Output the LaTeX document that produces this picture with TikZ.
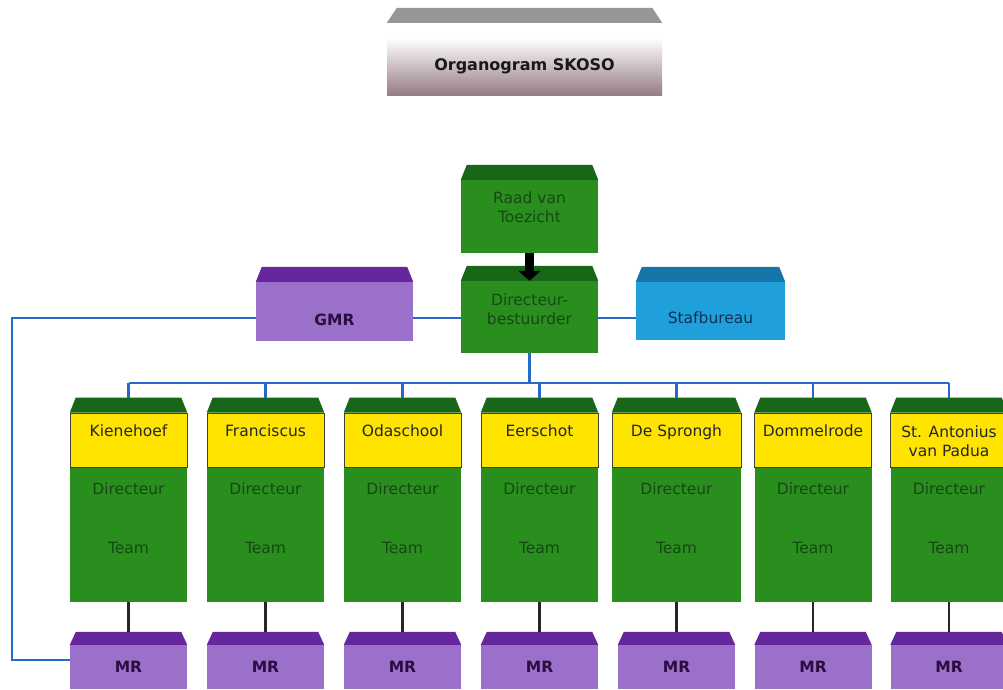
\documentclass[tikz,border=0pt]{standalone}
\usepackage{fontspec}
\setmainfont{DejaVu Sans}
\usetikzlibrary{arrows.meta,calc}

\definecolor{groen}{RGB}{42,142,30}
\definecolor{donkergroen}{RGB}{24,102,24}
\definecolor{tekstgroen}{RGB}{22,72,20}
\definecolor{geel}{RGB}{255,228,0}
\definecolor{paars}{RGB}{155,112,202}
\definecolor{donkerpaars}{RGB}{102,38,156}
\definecolor{tekstpaars}{RGB}{42,14,66}
\definecolor{blauw}{RGB}{32,160,218}
\definecolor{donkerblauw}{RGB}{22,118,170}
\definecolor{tekstblauw}{RGB}{14,48,88}
\definecolor{lijnblauw}{RGB}{36,106,200}
\definecolor{titelgrijs}{RGB}{150,150,152}
\definecolor{titelmidden}{RGB}{196,198,214}
\definecolor{titelonder}{RGB}{150,124,134}

% schuin dak boven een blok
\newcommand\dak[3][15]{\fill[#3] (#2.north west) -- ($(#2.north west)+(6,-#1)$) -- ($(#2.north east)+(-6,-#1)$) -- (#2.north east) -- cycle;}

\begin{document}
\begin{tikzpicture}[x=1pt,y=1pt,yscale=-1,
  kist/.style={rectangle, inner sep=0pt, draw=none},
  groenkist/.style={kist, fill=groen},
  geelkist/.style={kist, fill=geel, draw=black!75, line width=0.6pt, minimum height=54},
  mrkist/.style={kist, fill=paars, minimum width=117, minimum height=44, text=tekstpaars, font=\fontsize{15.5}{19}\selectfont\bfseries},
  tekst/.style={inner sep=0pt, align=center, font=\fontsize{15.5}{19}\selectfont},
  groentekst/.style={tekst, text=tekstgroen},
  naamtekst/.style={tekst, text=black!85},
  blauwlijn/.style={draw=lijnblauw, line width=2.2pt},
  zwartlijn/.style={draw=black!85, line width=2.2pt},
  pijl/.style={draw=black, line width=9pt, -{Triangle[length=10pt,width=22pt]}}]
\useasboundingbox (0,0) rectangle (1003,689);
\clip (0,0) rectangle (1003,689);

% titel
\node[kist, minimum width=275, minimum height=57, top color=white, middle color=titelmidden, bottom color=titelonder, font=\fontsize{16}{19}\selectfont\bfseries, text=black!90] (titel) at (524.5,66.5) {Organogram SKOSO};
\fill[titelgrijs] ($(titel.north west)+(0,-15)$) -- ($(titel.north west)+(10,-30)$) -- ($(titel.north east)+(-10,-30)$) -- ($(titel.north east)+(0,-15)$) -- cycle;

% bestuur
\node[groenkist, minimum width=137, minimum height=73] (raad) at (529.5,216.5) {};
\dak{raad}{donkergroen}
\node[groentekst] (raadtekst) at (529.5,207.5) {Raad van\\Toezicht};

\node[groenkist, minimum width=137, minimum height=72] (dir) at (529.5,317) {};
\dak{dir}{donkergroen}
\node[groentekst] (dirtekst) at (529.5,309.5) {Directeur-\\bestuurder};

\node[kist, fill=paars, minimum width=157, minimum height=59] (gmr) at (334.5,311.5) {};
\dak{gmr}{donkerpaars}
\node[tekst, text=tekstpaars, font=\fontsize{15.5}{19}\selectfont\bfseries] (gmrtekst) at (334.5,320) {GMR};

\node[kist, fill=blauw, minimum width=149, minimum height=58] (staf) at (710.5,311) {};
\dak{staf}{donkerblauw}
\node[tekst, text=tekstblauw] (staftekst) at (710.5,318) {Stafbureau};

\draw[pijl] (raad) -- (dir);

% lijnen bestuur
\coordinate (as) at (529.5,318);
\coordinate (links) at (12,318);
\coordinate (onder) at (12,660);
\coordinate (bus) at (530,383);
\draw[blauwlijn] (as -| gmr.east) -- (as -| dir.west);
\draw[blauwlijn] (as -| dir.east) -- (as -| staf.west);
\draw[blauwlijn] (dir.south) -- (dir.south |- bus);

% scholen
\foreach \i/\x/\w/\ty/\naam in {1/128.5/117/432/Kienehoef, 2/265.5/117/432/Franciscus, 3/402.5/117/432/Odaschool, 4/539.5/117/432/Eerschot, 5/676.5/129/432/De Sprongh, 6/813/117/432/Dommelrode, 7/949/117/441/{St. Antonius\\van Padua}}{
  \node[groenkist, minimum width=\w, minimum height=135] (b\i) at (\x,534.5) {};
  \node[geelkist, minimum width=\w] (s\i) at (\x,440) {};
  \dak{s\i}{donkergroen}
  \node[naamtekst] (n\i) at (\x,\ty) {\vphantom{Kg}\naam};
  \node[groentekst] (d\i) at (\x,489) {Directeur};
  \node[groentekst] (t\i) at (\x,548) {Team};
  \node[mrkist] (mr\i) at (\x,667) {MR};
  \dak[13]{mr\i}{donkerpaars}
  \draw[zwartlijn] (b\i.south) -- ($(mr\i.north)+(0,-13)$);
  \draw[blauwlijn] (s\i.north |- bus) -- ($(s\i.north)+(0,-15)$);
}
\draw[blauwlijn] (s1.north |- bus) -- (s7.north |- bus);
\draw[blauwlijn] (as -| gmr.west) -- (links) -- (onder) -- (onder -| mr1.west);

\end{tikzpicture}
\end{document}
